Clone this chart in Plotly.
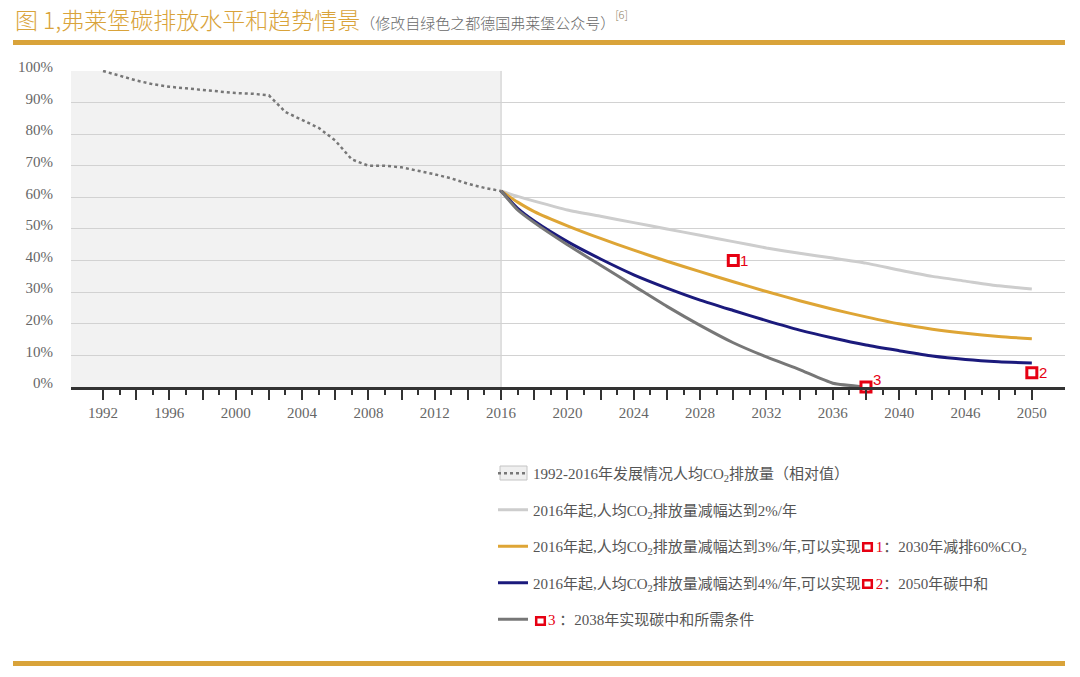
import plotly.graph_objects as go

# ---------------- data ----------------
hist_years = list(range(1992, 2017))
hist_vals = [100, 98.5, 97, 95.8, 95, 94.5, 94, 93.5, 93, 92.8, 92.3, 87, 84.5, 82,
             78, 72, 70, 70, 69.5, 68.5, 67.3, 66, 64.3, 63, 62]

proj_years = [2016, 2017, 2018, 2020, 2022, 2024, 2026, 2028, 2030, 2032, 2034,
              2036, 2038, 2040, 2042, 2044, 2046, 2048]
red2_vals = [62, 60.3, 58.8, 56, 54, 52, 50, 48, 46, 44, 42.3, 40.8, 39.2, 37, 35,
             33.5, 32, 31]
red3_vals = [62, 58.5, 55.5, 51, 47, 43.3, 39.8, 36.5, 33.3, 30.2, 27.3, 24.6, 22.2,
             20, 18.3, 17, 16, 15.3]
red4_vals = [62, 56.5, 52.5, 46, 40.5, 35.5, 31.3, 27.5, 24.2, 21, 18, 15.5, 13.3,
             11.5, 9.8, 8.7, 8, 7.6]
zero_years = [2016, 2017, 2018, 2020, 2022, 2024, 2026, 2028, 2030, 2032, 2034, 2036, 2038]
zero_vals = [62, 56, 52, 45, 38.5, 32, 25.5, 19.5, 14, 9.5, 5.5, 1.2, 0]

mark_x = [2030, 2048, 2038]
mark_y = [40, 4.5, 0]
mark_text = ["1", "2", "3"]

major_ticks = list(range(1992, 2049, 2))
minor_ticks = list(range(1993, 2048, 2))
label_pos = [1992, 1996, 2000, 2004, 2008, 2012, 2016, 2020, 2024, 2028, 2032,
             2036, 2040, 2044, 2048]
label_text = ["1992", "1996", "2000", "2004", "2008", "2012", "2016", "2020", "2024",
              "2028", "2032", "2036", "2040", "2046", "2050"]
y_ticks = list(range(0, 101, 10))
y_text = [f"{v}%" for v in y_ticks]

legend_names = [
    "1992-2016年发展情况人均CO<sub>2</sub>排放量（相对值）",
    "2016年起,人均CO<sub>2</sub>排放量减幅达到2%/年",
    "2016年起,人均CO<sub>2</sub>排放量减幅达到3%/年,可以实现\u2003<span style='color:#e60012'>1</span>：2030年减排60%CO<sub>2</sub>",
    "2016年起,人均CO<sub>2</sub>排放量减幅达到4%/年,可以实现\u2003<span style='color:#e60012'>2</span>：2050年碳中和",
    "\u2003<span style='color:#e60012'>3</span> ：2038年实现碳中和所需条件",
]

# ---------------- styles ----------------
FONT = "Liberation Serif, Noto Sans CJK SC, sans-serif"
GOLD = "#d9a33a"
RED = "#e60012"
X0, X1 = 1990.07, 2050.0
Y0, Y1 = 0, 100.3
L, R, T, B = 71, 15, 70, 290
W, H = 1080, 677
PW = W - L - R
PH = H - T - B


def px(xp):
    return (xp - L) / PW


def py(yp):
    return (H - B - yp) / PH


fig = go.Figure()

fig.add_trace(go.Scatter(x=hist_years, y=hist_vals, mode="lines", name=legend_names[0],
                         line=dict(color="#777777", width=2.5, dash="dot"),
                         legendgroup="a"))
fig.add_trace(go.Scatter(x=proj_years, y=red2_vals, mode="lines", name=legend_names[1],
                         line=dict(color="#cdcdcd", width=3, shape="spline", smoothing=0.5),
                         legendgroup="b"))
fig.add_trace(go.Scatter(x=proj_years, y=red3_vals, mode="lines", name=legend_names[2],
                         line=dict(color="#dea535", width=3, shape="spline", smoothing=0.6),
                         legendgroup="c"))
fig.add_trace(go.Scatter(x=proj_years, y=red4_vals, mode="lines", name=legend_names[3],
                         line=dict(color="#1b1a7c", width=3, shape="spline", smoothing=0.6),
                         legendgroup="d"))
fig.add_trace(go.Scatter(x=zero_years, y=zero_vals, mode="lines", name=legend_names[4],
                         line=dict(color="#777777", width=3, shape="spline", smoothing=0.5),
                         legendgroup="e"))
fig.add_trace(go.Scatter(x=mark_x, y=mark_y, mode="markers", showlegend=False,
                         cliponaxis=False,
                         marker=dict(symbol="square", size=10, color="white",
                                     line=dict(color=RED, width=3))))

LEG_X = 498  # pixel x of legend symbol start
shapes = [
    # historical shaded band
    dict(type="rect", xref="x", yref="y", x0=X0, x1=2016, y0=0, y1=100,
         fillcolor="#f2f2f2", line=dict(width=0), layer="below"),
    dict(type="line", xref="x", yref="y", x0=2016, x1=2016, y0=0, y1=100,
         line=dict(color="#c8c8c8", width=1), layer="below"),
    # gold rules
    dict(type="rect", xref="paper", yref="paper", x0=px(13), x1=px(1065), y0=py(45), y1=py(40),
         fillcolor=GOLD, line=dict(width=0)),
    dict(type="rect", xref="paper", yref="paper", x0=px(13), x1=px(1065), y0=py(666), y1=py(661),
         fillcolor=GOLD, line=dict(width=0)),
    # legend box behind the dotted symbol
    dict(type="rect", xref="paper", yref="paper", x0=px(LEG_X + 2), x1=px(LEG_X + 29),
         y0=py(480), y1=py(466), fillcolor="#efefef", line=dict(color="#c4c4c4", width=1)),
]

# legend icons (red squares) - positions in pixels (left, top)
icons = [(862, 542), (862, 579), (535, 616)]
for ix, iy in icons:
    shapes.append(dict(type="rect", xref="paper", yref="paper",
                       x0=px(ix + 1.2), x1=px(ix + 9.8), y0=py(iy + 8.8), y1=py(iy + 1.2),
                       fillcolor="white", line=dict(color=RED, width=2.5)))

annotations = [
    dict(xref="paper", yref="paper", x=px(13), y=py(19), xanchor="left", yanchor="middle",
         showarrow=False, align="left",
         text=("<span style='font-size:23px;color:%s'>图 1,弗莱堡碳排放水平和趋势情景</span>"
               "<span style='font-size:15px;color:#6a6a6a'>（修改自绿色之都德国弗莱堡公众号）</span>"
               "<sup><span style='font-size:11px;color:#8a7a5a'>[6]</span></sup>") % GOLD,
         font=dict(family="Noto Sans CJK SC Light, Noto Sans CJK SC, sans-serif", size=23,
                   color=GOLD)),
]
label_shift = [0, 0, 8]
for mx, my, mt, ys in zip(mark_x, mark_y, mark_text, label_shift):
    annotations.append(dict(x=mx, y=my, xref="x", yref="y", text=mt, showarrow=False,
                            xanchor="left", yanchor="middle", xshift=5, yshift=ys,
                            font=dict(family="Liberation Sans, sans-serif", size=15, color=RED)))

fig.update_layout(
    width=W, height=H,
    margin=dict(l=L, r=R, t=T, b=B),
    paper_bgcolor="white", plot_bgcolor="white",
    shapes=shapes,
    annotations=annotations,
    font=dict(family=FONT, size=15, color="#666666"),
    showlegend=True,
    legend=dict(x=px(LEG_X - 5), y=py(457), xanchor="left", yanchor="top",
                bgcolor="rgba(0,0,0,0)", tracegroupgap=14, itemwidth=30,
                font=dict(family=FONT, size=15, color="#555555"),
                itemclick=False),
    xaxis=dict(range=[X0, X1], showgrid=False, zeroline=False,
               showline=True, linecolor="#333333", linewidth=2.5,
               tickmode="array", tickvals=major_ticks,
               ticktext=[label_text[label_pos.index(v)] if v in label_pos else "" for v in major_ticks],
               ticks="outside", ticklen=10, tickwidth=2, tickcolor="#333333",
               tickfont=dict(family=FONT, size=15, color="#666666"),
               minor=dict(tickmode="array", tickvals=minor_ticks, ticks="outside",
                          ticklen=5, tickwidth=1.5, tickcolor="#333333", showgrid=False)),
    yaxis=dict(range=[Y0, Y1], showgrid=True, gridcolor="#d2d2d2", gridwidth=1.2,
               zeroline=False, showline=False, tickmode="array", tickvals=y_ticks,
               ticktext=y_text, ticks="", ticklabelstandoff=17, ticklabelshift=-4,
               tickfont=dict(family=FONT, size=15, color="#666666")),
)

fig.write_html("out.html")
